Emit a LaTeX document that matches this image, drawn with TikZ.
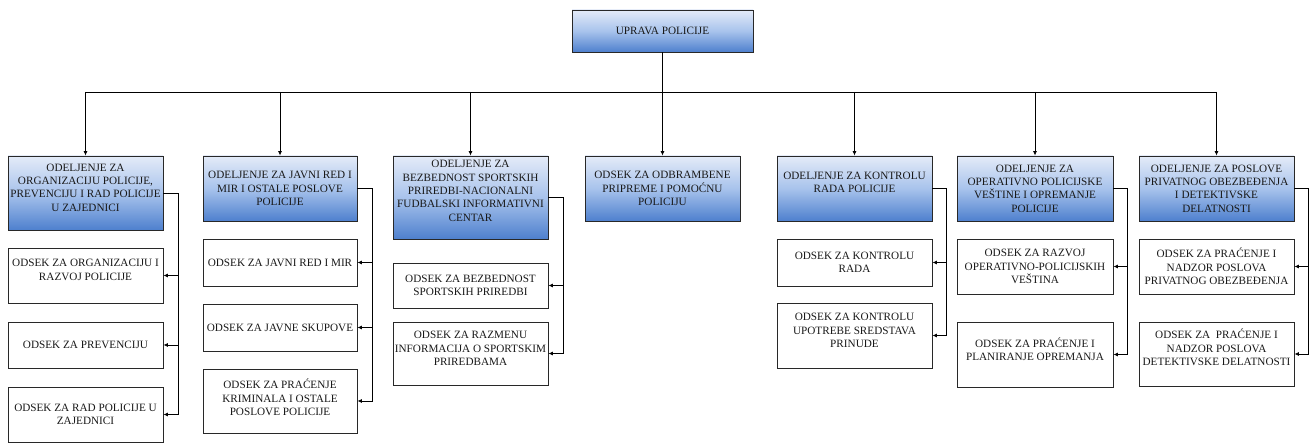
\documentclass[tikz,border=0pt]{standalone}
\usepackage{fontspec}
\setmainfont{Liberation Serif}
\usetikzlibrary{arrows.meta}
\definecolor{boxline}{RGB}{40,40,40}
\definecolor{topblue}{RGB}{228,235,248}
\definecolor{midblue}{RGB}{168,195,236}
\definecolor{botblue}{RGB}{78,128,206}
\begin{document}
\begin{tikzpicture}[x=1pt,y=-1pt,
  base/.style={draw=boxline,line width=0.8pt,rectangle,align=center,inner sep=1pt,
    font=\fontsize{11.2}{13.3}\selectfont,text=black!90},
  head/.style={base,top color=topblue,bottom color=botblue,middle color=midblue,minimum width=155pt},
  sub/.style={base,fill=white,minimum width=155pt},
  conn/.style={draw=black,line width=0.8pt},
  arr/.style={conn,-{Latex[length=4.5pt,width=4pt]}}]
\useasboundingbox (0,0) rectangle (1310,443);
% top
\node[head,minimum width=181pt,minimum height=42pt] (top) at (662.5,31) {UPRAVA POLICIJE};
% heads
\node[head,minimum height=74pt] (d1) at (85.5,193) {ODELJENJE ZA\\ORGANIZACIJU POLICIJE,\\PREVENCIJU I RAD POLICIJE\\U ZAJEDNICI\\[-2pt]};
\node[head,minimum width=154pt,minimum height=65pt] (d2) at (280,188.5) {ODELJENJE ZA JAVNI RED I\\MIR I OSTALE POSLOVE\\POLICIJE};
\node[head,minimum height=83pt] (d3) at (470.5,197.5) {ODELJENJE ZA\\BEZBEDNOST SPORTSKIH\\PRIREDBI-NACIONALNI\\FUDBALSKI INFORMATIVNI\\CENTAR\\[0pt]};
\node[head,minimum height=65pt] (d4) at (662.5,188.5) {ODSEK ZA ODBRAMBENE\\PRIPREME I POMOĆNU\\POLICIJU};
\node[head,minimum height=65pt] (d5) at (854.5,188.5) {ODELJENJE ZA KONTROLU\\RADA POLICIJE\\[-1pt]};
\node[head,minimum width=156pt,minimum height=65pt] (d6) at (1035,188.5) {ODELJENJE ZA\\OPERATIVNO POLICIJSKE\\VEŠTINE I OPREMANJE\\POLICIJE};
\node[head,minimum height=65pt] (d7) at (1216.5,188.5) {ODELJENJE ZA POSLOVE\\PRIVATNOG OBEZBEĐENJA\\I DETEKTIVSKE\\DELATNOSTI};
% subs column 1
\node[sub,minimum height=55pt] (s11) at (85.5,275.5) {ODSEK ZA ORGANIZACIJU I\\RAZVOJ POLICIJE\\[-2pt]};
\node[sub,minimum height=46pt] (s12) at (85.5,345) {ODSEK ZA PREVENCIJU};
\node[sub,minimum height=55pt] (s13) at (85.5,414.5) {ODSEK ZA RAD POLICIJE U\\ZAJEDNICI};
% column 2
\node[sub,minimum width=154pt,minimum height=47pt] (s21) at (280,262.5) {ODSEK ZA JAVNI RED I MIR};
\node[sub,minimum width=154pt,minimum height=47pt] (s22) at (280,327.5) {ODSEK ZA JAVNE SKUPOVE};
\node[sub,minimum width=154pt,minimum height=64pt] (s23) at (280,401) {ODSEK ZA PRAĆENJE\\KRIMINALA I OSTALE\\POSLOVE POLICIJE\\[-6pt]};
% column 3
\node[sub,minimum height=45pt] (s31) at (470.5,285.5) {ODSEK ZA BEZBEDNOST\\SPORTSKIH PRIREDBI};
\node[sub,minimum height=63pt] (s32) at (470.5,353.5) {ODSEK ZA RAZMENU\\INFORMACIJA O SPORTSKIM\\PRIREDBAMA\\[-3pt]};
% column 5
\node[sub,minimum height=47pt] (s51) at (854.5,262.5) {ODSEK ZA KONTROLU\\RADA};
\node[sub,minimum height=65pt] (s52) at (854.5,335.5) {ODSEK ZA KONTROLU\\UPOTREBE SREDSTAVA\\PRINUDE\\[-3pt]};
% column 6
\node[sub,minimum width=156pt,minimum height=55pt] (s61) at (1035,266.5) {ODSEK ZA RAZVOJ\\OPERATIVNO-POLICIJSKIH\\VEŠTINA};
\node[sub,minimum width=156pt,minimum height=65pt] (s62) at (1035,354.5) {ODSEK ZA PRAĆENJE I\\PLANIRANJE OPREMANJA\\[-3pt]};
% column 7
\node[sub,minimum height=55pt] (s71) at (1216.5,266.5) {ODSEK ZA PRAĆENJE I\\NADZOR POSLOVA\\PRIVATNOG OBEZBEĐENJA};
\node[sub,minimum height=64pt] (s72) at (1216.5,354) {ODSEK ZA\ \ PRAĆENJE I\\NADZOR POSLOVA\\DETEKTIVSKE DELATNOSTI\\[0pt]};
% bus
\coordinate (bus) at (662.5,92);
\draw[conn] (top.south) -- (bus);
\draw[conn] (bus -| d1.north) -- (bus -| d7.north);
\foreach \d in {d1,d2,d3,d4,d5,d6,d7}
  \draw[arr] (bus -| \d.north) -- (\d.north);
% side connectors
\draw[arr] (d1.east) -- ++(15,0) |- (s11.east);
\draw[arr] (d1.east) -- ++(15,0) |- (s12.east);
\draw[arr] (d1.east) -- ++(15,0) |- (s13.east);
\draw[arr] (d2.east) -- ++(15,0) |- (s21.east);
\draw[arr] (d2.east) -- ++(15,0) |- (s22.east);
\draw[arr] (d2.east) -- ++(15,0) |- (s23.east);
\draw[arr] (d3.east) -- ++(15,0) |- (s31.east);
\draw[arr] (d3.east) -- ++(15,0) |- (s32.east);
\draw[arr] (d5.east) -- ++(14,0) |- (s51.east);
\draw[arr] (d5.east) -- ++(14,0) |- (s52.east);
\draw[arr] (d6.east) -- ++(14,0) |- (s61.east);
\draw[arr] (d6.east) -- ++(14,0) |- (s62.east);
\draw[arr] (d7.east) -- ++(14,0) |- (s71.east);
\draw[arr] (d7.east) -- ++(14,0) |- (s72.east);
\end{tikzpicture}
\end{document}
